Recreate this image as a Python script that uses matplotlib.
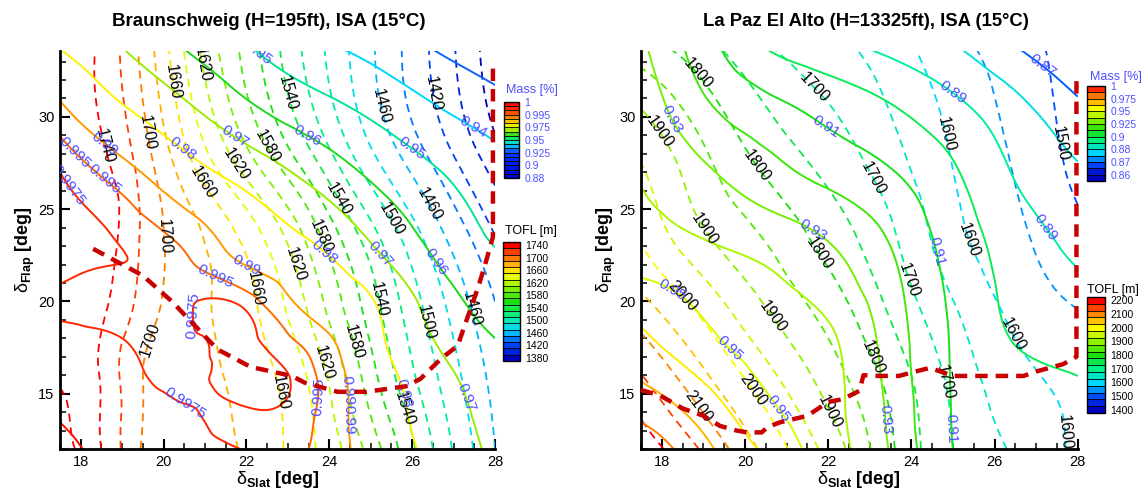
"""Mass and TOFL contours over slat/flap deflection, Braunschweig vs. La Paz El Alto."""
import numpy as np
import matplotlib

matplotlib.use("Agg")
import matplotlib.pyplot as plt  # noqa: E402
import matplotlib.tri as mtri  # noqa: E402
from matplotlib.cm import ScalarMappable  # noqa: E402
from matplotlib.colors import BoundaryNorm, LinearSegmentedColormap, ListedColormap  # noqa: E402
from matplotlib.ticker import MultipleLocator  # noqa: E402

plt.rcParams["font.family"] = ["Liberation Sans", "DejaVu Sans"]
plt.rcParams["mathtext.fontset"] = "custom"
plt.rcParams["mathtext.rm"] = "Liberation Sans"
plt.rcParams["mathtext.it"] = "Liberation Sans:italic"
plt.rcParams["mathtext.bf"] = "Liberation Sans:bold"

# ---------------- Braunschweig (left panel) ----------------
BS_MASS_SLAT = [17.5, 19, 20.5, 22, 23.5, 25, 26.5, 28]
BS_MASS_FLAP = [12, 14, 16, 18, 20, 22, 24, 27, 30, 34]
BS_MASS = [
    [0.9993, 0.9985, 0.9980, 0.99745, 0.995, 0.987, 0.9775, 0.968],
    [0.9989, 0.99825, 0.99758, 0.99738, 0.99575, 0.986, 0.976, 0.96625],
    [0.99863, 0.99795, 0.99719, 0.99806, 0.99594, 0.985, 0.974, 0.96375],
    [0.99806, 0.9975, 0.99713, 0.99788, 0.99325, 0.983, 0.970, 0.960],
    [0.99725, 0.9970, 0.99738, 0.99656, 0.988, 0.98075, 0.96625, 0.95525],
    [0.99788, 0.99748, 0.99588, 0.98975, 0.98375, 0.97425, 0.961, 0.95175],
    [0.99806, 0.9970, 0.99275, 0.985, 0.978, 0.9675, 0.95675, 0.94825],
    [0.9975, 0.99238, 0.984, 0.97625, 0.9675, 0.9585, 0.951, 0.94425],
    [0.9925, 0.9825, 0.9735, 0.96375, 0.956, 0.9495, 0.9425, 0.93575],
    [0.97875, 0.96925, 0.95875, 0.950, 0.942, 0.93625, 0.92875, 0.9225],
]
BS_MASS_LEVELS = [0.93, 0.94, 0.95, 0.96, 0.97, 0.98, 0.99, 0.995, 0.9975, 0.999]
BS_MASS_LABELED = [0.94, 0.95, 0.96, 0.97, 0.98, 0.99, 0.995, 0.9975]
BS_MASS_TICKS = [1, 0.995, 0.975, 0.95, 0.925, 0.9, 0.88]

BS_TOFL_SLAT = [17.5, 18.5, 19.5, 20.5, 22, 23.5, 25, 26.5, 28]
BS_TOFL_FLAP = [12, 16, 20, 24, 28, 34]
BS_TOFL = [
    [1768, 1740, 1698, 1690, 1677, 1645, 1592, 1520, 1460],
    [1757, 1738, 1700, 1689, 1672, 1638, 1568, 1504, 1453],
    [1755, 1745, 1713, 1689, 1666, 1616, 1549, 1490, 1440],
    [1755, 1752, 1717, 1688, 1650, 1590, 1524, 1467, 1417],
    [1755, 1743, 1709, 1665, 1604, 1544, 1483, 1435, 1387],
    [1755, 1736, 1694, 1638, 1572, 1513, 1463, 1417, 1367],
]
BS_TOFL_LEVELS = list(range(1360, 1761, 20))
BS_TOFL_LABELED = list(range(1420, 1741, 40))
BS_TOFL_TICKS = list(range(1740, 1379, -40))

BS_BOUND_SLAT = [18.3, 19.5, 20.2, 21.3, 22.1, 23.1, 23.4, 24.2, 24.9, 25.85, 26.2,
                 26.7, 27.1, 27.3, 27.6, 27.8, 27.95, 27.95]
BS_BOUND_FLAP = [22.85, 21.4, 20.0, 17.4, 16.45, 15.96, 15.6, 15.1, 15.1, 15.4, 15.8,
                 16.9, 17.6, 18.9, 20.8, 22.3, 23.5, 33.0]

BS_TOFL_LABEL_AT = [(18.4, 28.3), (19.7, 29.2), (20.2, 31.9), (20.9, 32.8), (21.0, 26.5),
                    (21.8, 27.5), (22.6, 28.5), (23.0, 31.3), (24.4, 25.8), (24.75, 30.3),
                    (25.6, 24.6), (26.9, 31.4), (26.6, 25.5), (20.0, 23.5),
                    (19.6, 18.0), (22.5, 20.8), (23.05, 15.2), (23.3, 22.1), (23.95, 16.7),
                    (23.8, 23.5), (24.6, 17.8), (25.2, 20.1), (25.96, 14.3), (26.4, 18.9),
                    (27.6, 19.7)]
BS_MASS_LABEL_AT = [(17.7, 27.7), (18.5, 28.3), (18.7, 27.0), (17.7, 26.3), (20.4, 28.1),
                    (21.6, 28.5), (23.4, 28.7), (22.15, 33.0), (26.0, 28.3), (27.4, 29.2),
                    (21.3, 21.6), (22.1, 22.4), (20.5, 19.2), (20.5, 14.4), (23.8, 14.8),
                    (24.2, 13.6), (24.7, 15.2), (23.75, 22.3), (25.1, 22.3), (26.4, 21.9),
                    (26.0, 15.1), (27.4, 14.9)]

# ---------------- La Paz El Alto (right panel) ----------------
LP_MASS_SLAT = [17.5, 19, 20.5, 22, 23.5, 25, 26.5, 28]
LP_MASS_FLAP = [12, 15, 18, 21, 24, 27, 30, 34]
LP_MASS = [
    [0.988, 0.9727, 0.9582, 0.9445, 0.9293, 0.910, 0.907, 0.904],
    [0.9726, 0.9624, 0.9503, 0.9429, 0.9275, 0.9095, 0.904, 0.9015],
    [0.9621, 0.9521, 0.9463, 0.9416, 0.9256, 0.9091, 0.8995, 0.8965],
    [0.951, 0.9466, 0.9421, 0.9351, 0.9227, 0.9077, 0.8974, 0.8915],
    [0.943, 0.9383, 0.9336, 0.9278, 0.918, 0.9052, 0.8943, 0.8858],
    [0.9395, 0.9316, 0.9237, 0.9167, 0.9106, 0.9013, 0.8892, 0.8811],
    [0.9371, 0.9233, 0.9148, 0.9083, 0.9024, 0.8942, 0.8842, 0.8736],
    [0.9315, 0.9142, 0.8986, 0.8924, 0.8863, 0.880, 0.8693, 0.8585],
]
LP_MASS_LEVELS = [0.87, 0.88, 0.89, 0.90, 0.91, 0.92, 0.93, 0.94, 0.95, 0.96, 0.97, 0.98]
LP_MASS_LABELED = [0.87, 0.89, 0.91, 0.93, 0.95, 0.97]
LP_MASS_TICKS = [1, 0.975, 0.95, 0.925, 0.9, 0.88, 0.87, 0.86]

LP_TOFL_SLAT = [17.5, 19, 20.5, 22, 23.5, 25, 26.5, 28]
LP_TOFL_FLAP = [12, 16, 20, 24, 28, 34]
LP_TOFL = [
    [2230, 2143, 2036, 1933, 1809, 1700, 1644, 1590],
    [2152, 2058, 1966, 1876, 1783, 1686, 1616, 1585],
    [2061, 1978, 1895, 1824, 1739, 1651, 1583, 1545],
    [1988, 1900, 1839, 1774, 1705, 1615, 1558, 1510],
    [1943, 1857, 1782, 1729, 1667, 1597, 1544, 1483],
    [1815, 1763, 1702, 1663, 1621, 1564, 1523, 1470],
]
LP_TOFL_LEVELS = list(range(1400, 2201, 50))
LP_TOFL_LABELED = list(range(1500, 2101, 100))
LP_TOFL_TICKS = list(range(2200, 1399, -100))

LP_BOUND_SLAT = [17.5, 17.96, 18.5, 19.0, 19.4, 19.8, 20.05, 20.4, 20.55, 20.85, 21.5,
                 22.0, 22.35, 22.75, 22.85, 23.2, 23.7, 24.1, 24.45, 25.0, 26.7, 27.0,
                 27.65, 27.97, 27.97]
LP_BOUND_FLAP = [15.2, 14.9, 14.2, 13.8, 13.25, 13.0, 12.9, 12.9, 13.2, 13.45, 13.8,
                 14.55, 14.7, 15.15, 16.0, 15.96, 15.96, 16.2, 16.4, 15.96, 15.96, 16.2,
                 16.6, 17.0, 32.1]

LP_TOFL_LABEL_AT = [(18.9, 32.4), (21.6, 31.4), (18.0, 29.3), (20.2, 27.2), (19.0, 23.9),
                    (21.9, 22.8), (25.3, 29.3), (27.7, 28.6), (23.2, 26.8), (25.6, 23.5),
                    (23.1, 17.0), (24.0, 21.2), (24.75, 15.6), (26.2, 17.9), (27.5, 12.9),
                    (18.5, 20.3), (20.7, 19.2), (20.2, 15.2), (18.9, 14.3), (22.1, 14.1)]
LP_MASS_LABEL_AT = [(18.25, 29.9), (21.7, 24.1), (21.9, 29.35), (25.0, 31.35), (27.1, 23.8),
                    (27.1, 32.6), (19.1, 16.1), (21.8, 15.9), (24.0, 13.7), (25.9, 13.2),
                    (18.7, 22.5), (24.6, 22.7)]

# ---------------- colours ----------------
RAINBOW = LinearSegmentedColormap.from_list("rainbow_tp", [
    (0.0, (0.0, 0.0, 0.75)), (0.125, (0.0, 0.3, 1.0)), (0.25, (0.0, 0.85, 1.0)),
    (0.375, (0.0, 0.95, 0.55)), (0.5, (0.1, 0.88, 0.05)), (0.625, (0.55, 0.95, 0.0)),
    (0.75, (1.0, 1.0, 0.0)), (0.875, (1.0, 0.55, 0.0)), (1.0, (1.0, 0.0, 0.0))])
BS_MASS_CMAP = LinearSegmentedColormap.from_list("bs_mass", [
    (0.0, (0.0, 0.0, 0.75)), (0.3, (0.0, 0.2, 1.0)), (0.367, (0.05, 0.4, 1.0)),
    (0.433, (0.0, 0.85, 1.0)), (0.5, (0.0, 0.9, 0.6)), (0.567, (0.1, 0.85, 0.1)),
    (0.633, (0.6, 0.92, 0.0)), (0.708, (1.0, 0.95, 0.0)), (0.792, (1.0, 0.6, 0.0)),
    (0.833, (1.0, 0.42, 0.0)), (0.917, (1.0, 0.15, 0.0)), (1.0, (1.0, 0.0, 0.0))])
MASS_BLUE = "#4f4fff"
BOUND_RED = "#c80000"

W, H = 1142, 488


def legend_pos(v, ticks):
    t = sorted(ticks)
    return np.interp(v, t, np.arange(len(t))) / (len(t) - 1)


def smooth(slat, flap, values):
    xx, yy = np.meshgrid(slat, flap)
    tri = mtri.Triangulation(xx.ravel(), yy.ravel())
    return mtri.UniformTriRefiner(tri).refine_field(np.ravel(values), subdiv=4)


def px_axes(fig, x0, y0, x1, y1):
    return fig.add_axes([x0 / W, 1 - y1 / H, (x1 - x0) / W, (y1 - y0) / H])


def label_lines(ax, tri, z, levels, at, color, size, fmt):
    # invisible copy holding only the labelled levels, so clabel picks among them
    cs = ax.tricontour(tri, z, levels=levels, colors="none", linewidths=0)
    ax.clabel(cs, inline=False, manual=at, fontsize=size, colors=color, fmt=fmt)


def draw_panel(ax, mass, mass_levels, mass_labeled, mass_colors, mass_at,
               tofl, tofl_levels, tofl_labeled, tofl_colors, tofl_at, bound):
    tri_t, z_t = smooth(*tofl)
    ax.tricontour(tri_t, z_t, levels=tofl_levels, colors=tofl_colors,
                  linewidths=1.3, linestyles=[(0, (4.5, 3.2))])
    tri_m, z_m = smooth(*mass)
    ax.tricontour(tri_m, z_m, levels=mass_levels, colors=mass_colors,
                  linewidths=1.4, linestyles="solid")
    label_lines(ax, tri_t, z_t, tofl_labeled, tofl_at, "k", 11.5, lambda v: f"{v:.0f}")
    label_lines(ax, tri_m, z_m, mass_labeled, mass_at, MASS_BLUE, 11, lambda v: f"{v:g}")
    ax.plot(*bound, color=BOUND_RED, lw=3.2, ls=(0, (2.8, 1.8)), zorder=5,
            clip_on=False, solid_capstyle="butt")

    ax.set_xlim(17.5, 28)
    ax.set_ylim(12.0, 33.6)
    ax.spines[["top", "right"]].set_visible(False)
    ax.spines[["left", "bottom"]].set_linewidth(2)
    ax.set_xticks(range(18, 29, 2))
    ax.set_yticks(range(15, 31, 5))
    ax.xaxis.set_minor_locator(MultipleLocator(0.5))
    ax.yaxis.set_minor_locator(MultipleLocator(1))
    ax.tick_params(which="both", direction="in")
    ax.tick_params(which="major", length=7, width=1.5, labelsize=10.5, pad=4)
    ax.tick_params(which="minor", length=4, width=1.1)
    ax.set_xlabel(r"$\mathrm{\delta}_{\mathbf{Slat}}\ \mathbf{[deg]}$", fontsize=13)
    ax.set_ylabel(r"$\mathrm{\delta}_{\mathbf{Flap}}\ \mathbf{[deg]}$", fontsize=13)
    ax.xaxis.set_label_coords(0.5, -0.05)
    ax.yaxis.set_label_coords(-0.052, 0.5)


def legend(fig, rect, bounds, colors, ticks, ticklabels, color, title, title_xy):
    cax = px_axes(fig, *rect)
    cmap = ListedColormap(colors)
    cb = fig.colorbar(ScalarMappable(norm=BoundaryNorm(bounds, cmap.N), cmap=cmap),
                      cax=cax, spacing="uniform", drawedges=True, ticks=ticks)
    cb.set_ticklabels(ticklabels)
    cb.minorticks_off()
    cb.outline.set_linewidth(1.0)
    cb.dividers.set_linewidth(0.6)
    cax.tick_params(length=0, labelsize=7.5, labelcolor=color, pad=4)
    fig.text(title_xy[0] / W, 1 - title_xy[1] / H, title, color=color, fontsize=9,
             ha="left", va="center")


def mass_legend(fig, ticks, sub, cmap, rect, title_xy, extra_bottom=False):
    t = sorted(ticks)
    bounds = []
    for a, b in zip(t[:-1], t[1:]):
        bounds.extend(np.linspace(a, b, sub + 1)[:-1])
    bounds.append(t[-1])
    if extra_bottom:
        bounds.insert(0, t[0] - (t[1] - t[0]) / sub)
    mids = [(a + b) / 2 for a, b in zip(bounds[:-1], bounds[1:])]
    colors = [cmap(max(legend_pos(m, ticks), 0.0)) for m in mids]
    legend(fig, rect, bounds, colors, ticks, [f"{v:g}" for v in ticks], MASS_BLUE,
           "Mass [%]", title_xy)


def tofl_legend(fig, ticks, step, rect, title_xy):
    lo, hi = min(ticks), max(ticks)
    centers = np.arange(lo, hi + 1, step)
    bounds = list(centers - step / 2) + [hi + step / 2]
    colors = [RAINBOW((c - lo) / (hi - lo)) for c in centers]
    legend(fig, rect, bounds, colors, ticks, [str(v) for v in ticks], "k", "TOFL [m]", title_xy)


def main():
    fig = plt.figure(figsize=(W / 100, H / 100), dpi=100)

    ax1 = px_axes(fig, 60, 50.5, 495, 449)
    draw_panel(ax1, (BS_MASS_SLAT, BS_MASS_FLAP, BS_MASS), BS_MASS_LEVELS, BS_MASS_LABELED,
               [BS_MASS_CMAP(legend_pos(v, BS_MASS_TICKS)) for v in BS_MASS_LEVELS],
               BS_MASS_LABEL_AT,
               (BS_TOFL_SLAT, BS_TOFL_FLAP, BS_TOFL), BS_TOFL_LEVELS, BS_TOFL_LABELED,
               [RAINBOW(np.clip((v - 1380) / 360, 0, 1)) for v in BS_TOFL_LEVELS],
               BS_TOFL_LABEL_AT, (BS_BOUND_SLAT, BS_BOUND_FLAP))

    ax2 = px_axes(fig, 641, 50.5, 1077.7, 449)
    draw_panel(ax2, (LP_MASS_SLAT, LP_MASS_FLAP, LP_MASS), LP_MASS_LEVELS, LP_MASS_LABELED,
               [RAINBOW(legend_pos(v, LP_MASS_TICKS)) for v in LP_MASS_LEVELS],
               LP_MASS_LABEL_AT,
               (LP_TOFL_SLAT, LP_TOFL_FLAP, LP_TOFL), LP_TOFL_LEVELS, LP_TOFL_LABELED,
               [RAINBOW(np.clip((v - 1400) / 800, 0, 1)) for v in LP_TOFL_LEVELS],
               LP_TOFL_LABEL_AT, (LP_BOUND_SLAT, LP_BOUND_FLAP))

    fig.text(269 / W, 1 - 22 / H, "Braunschweig (H=195ft), ISA (15°C)",
             ha="center", va="center", fontsize=13.5, fontweight="bold")
    fig.text(866 / W, 1 - 22 / H, "La Paz El Alto (H=13325ft), ISA (15°C)",
             ha="center", va="center", fontsize=13.3, fontweight="bold")

    mass_legend(fig, BS_MASS_TICKS, 3, BS_MASS_CMAP, (504, 102, 519, 178), (506, 90))
    tofl_legend(fig, BS_TOFL_TICKS, 20, (503, 242, 520, 361), (505, 231))
    mass_legend(fig, LP_MASS_TICKS, 2, RAINBOW, (1087, 86, 1105, 181), (1090, 77),
                extra_bottom=True)
    tofl_legend(fig, LP_TOFL_TICKS, 50, (1087, 297, 1105, 413), (1087, 290))

    fig.savefig("out.png", dpi=100)


if __name__ == "__main__":
    main()
